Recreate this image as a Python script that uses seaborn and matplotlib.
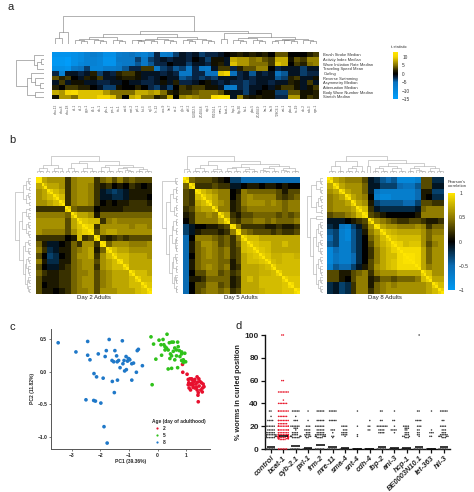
import matplotlib

matplotlib.use("Agg")

import matplotlib.pyplot as plt
import numpy as np
import pandas as pd
import seaborn as sns
from matplotlib.colors import LinearSegmentedColormap

# panel a: t-statistics, one row per feature
features = [
    "Brush Stroke Median",
    "Activity Index Median",
    "Wave Initiation Rate Median",
    "Traveling Speed Mean",
    "Curling",
    "Reverse Swimming",
    "Asymmetry Median",
    "Attenuation Median",
    "Body Wave Number Median",
    "Stretch Median",
]
genes_a = [
    "dhu-12", "dhu-8", "dhu-18", "ifc-1", "ifc-2", "ppp-1", "ifb-1", "dlc-1", "pfn-1", "rps-1",
    "ttn-1", "eat-6", "mai-2", "pal-1", "fut-3", "egl-5", "lin-12", "unc-9", "let-7", "sir-2",
    "glp-1", "daf-2", "C50D2.5", "ZC404.8", "atp-2", "F31D4.1", "mev-1", "bcat-1", "hsp-1", "hlp-30",
    "fat-1", "pbo-5", "ZC404.9", "lev-1", "lev-9", "T28C6.1", "cat-1", "pbo-4", "ric-19", "dlc-2",
    "rab-3", "age-1",
]
brush = [-12, -12, -12, -11, -10, -8, -7, -8, -11, -11, -7, -6, -5, -7, -8, -5, -2, -7, -6, -3,
         -1, -2, -1, -3, -2, -2, -1, 0, 1, 2, 1, 2, 1, 2, 0, 4, 4, 0, 0, 0, 2, 3]
activity = [-13, -13, -14, -11, -10, -8, -8, -9, -12, -12, -6, -6, -6, -3, -6, -3, -2, -1, -2, -1,
            -1, -2, 0, -1, -3, 1, 1, -1, 8, 7, 7, 5, 6, 4, 3, 8, 8, 1, 4, 3, 6, 6]
wave_init = [-13, -13, -14, -11, -9, -8, -8, -9, -12, -12, -7, -6, -6, -4, -6, -4, -2, -2, 0, -1,
             -1, -3, -1, -1, -2, 1, 2, -1, 9, 7, 7, 5, 5, 5, 3, 9, 8, 0, 3, 2, 5, 6]
travel = [-11, -11, -12, -6, -5, -3, -9, -9, -7, -7, -6, -4, -2, -2, 3, 3, -6, -3, -2, -4,
          -3, -6, -2, -6, -7, -1, 3, 3, -2, 2, 4, 4, 6, 6, 0, -2, -1, -1, -1, -3, -1, -1]
curling = [-2, -8, -1, -1, -2, -1, 2, -3, -1, -2, 2, 3, 3, 1, -1, -1, -1, -2, -1, -2,
           -6, -6, -2, -2, -5, -5, 9, 10, -5, -2, -1, -4, -1, -2, -1, -5, -4, -1, -1, -3, -2, -2]
reverse = [4, 2, 3, 0, -1, 2, 1, 3, -1, -1, 1, 2, 2, 1, -1, -2, -1, 0, -1, -1,
           -4, -3, -2, -3, -2, -3, -1, -1, -1, -2, -1, -2, -1, -1, -1, -4, -3, 2, 3, -1, -1, 1]
asymmetry = [-1, 3, -1, 1, 1, -1, -1, -2, -2, -1, -1, 0, -1, -1, -2, -2, -1, 1, -1, 2,
             -2, -2, -1, 0, 1, -1, -2, -1, -2, -2, -3, -2, -1, -1, -2, -1, -1, 2, 1, -1, 3, -1]
attenuation = [2, 0, 3, 3, 2, 2, 0, -1, -3, -3, 1, 0, 0, 2, 0, -2, -3, -1, -3, 0,
               3, 2, 3, 3, 1, 1, -1, -6, -7, -2, -3, -1, -1, 0, -1, 1, 3, 3, 1, -1, 1, 3]
body_wave = [8, 7, 10, 11, 9, 9, 9, 9, 7, 5, 5, 5, 5, 8, 8, 7, 8, 5, 2, 1,
             3, 3, 4, 5, 5, 5, 4, 1, -1, -1, -3, -1, 0, 1, 1, -3, -3, 4, 4, 1, 1, 2]
stretch = [1, 7, 7, 5, 9, 9, 9, 10, 10, 9, 5, 0, 8, 9, 5, 5, 2, 3, 8, 0,
           6, 7, 6, 5, 5, 11, 12, 12, -1, 6, 2, 1, 2, 1, 1, -2, -2, 7, 7, 1, 3, 2]

# dendrograms: [height, left, right], an int is a small cluster of that many leaves
tree_a_cols = [1.0, [0.41, [0.2, 1, 1], 1],
               [0.46,
                [0.35, [0.26, [0.17, 3, 3], 3], [0.24, [0.18, [0.14, 3, 2], 3], [0.18, 3, 3]]],
                [0.39, [0.18, 1, 1], [0.25, [0.2, 3, 3], [0.18, [0.13, 2, 3], 3]]]]]
tree_a_rows = [1.0, [0.36, 1, [0.25, [0.1, 1, 1], 1]],
               [0.6, [0.47, 1, [0.33, 1, [0.15, 1, 1]]], [0.3, 1, 1]]]
tree_day2 = [1.0, [0.48, [0.3, 3, 2], [0.3, 3, 2]],
             [0.72, [0.58, [0.3, 2, 3], [0.28, 3, 3]],
              [0.5, [0.34, 3, 3], [0.38, [0.3, 3, 4], [0.25, 3, 3]]]]]
tree_day5 = [1.0, [0.22, 1, 2],
             [0.75, [0.5, [0.3, 3, 3], [0.25, 3, 2]],
              [0.55, [0.38, [0.3, 3, 3], [0.22, 3, 3]], [0.4, [0.3, 4, 3], [0.28, 4, 3]]]]]
tree_day8 = [1.0, [0.72, [0.45, 3, 3], [0.4, [0.3, 3, 2], 2]],
             [0.78, [0.42, 1, 1],
              [0.6, [0.4, [0.3, 3, 3], [0.3, 3, 3]], [0.45, [0.3, 3, 4], [0.3, 3, 3]]]]]

# panel b: correlation read in blocks, upper triangle only
corr_day2 = [
    [1, .7, .6, .6, .6, .2, .5, .6, .6, .6, .2, .4, .5, .3, .5, .3, .4, .3, .3, .3],
    [.8, .7, .7, .6, .2, .5, .6, .6, .5, .2, .1, .2, .0, .1, .0, .2, .1, .0, .1],
    [.9, .8, .7, .2, .5, .6, .6, .5, .2, -.1, -.2, -.3, -.2, -.1, .1, .1, .1, .1],
    [.9, .8, .2, .5, .6, .6, .5, .2, -.1, -.1, -.2, -.2, -.1, .1, .1, .1, .0],
    [.9, .2, .5, .6, .6, .5, .2, .0, .1, .0, .1, .1, .2, .2, .2, .1],
    [.9, .4, .3, .3, .3, .0, .1, .1, .1, .1, .2, .2, .2, .2, .2],
    [.85, .7, .7, .6, .1, .4, .4, .4, .4, .4, .4, .4, .4, .4],
    [.9, .85, .8, .8, .2, .5, .6, .5, .5, .5, .5, .5, .5],
    [.95, .9, .2, .6, .6, .6, .6, .6, .5, .6, .6, .5],
    [.95, .3, .6, .7, .7, .6, .6, .6, .6, .6, .6],
    [.9, .2, .1, .2, .3, .2, .3, .3, .3, .3],
    [.95, .4, .6, .6, .6, .5, .5, .5, .6],
    [.9, .8, .7, .7, .6, .6, .6, .6],
    [.9, .8, .8, .7, .7, .7, .6],
    [.95, .8, .7, .7, .7, .7],
    [.9, .7, .7, .7, .7],
    [.9, .8, .8, .7],
    [.9, .8, .8],
    [.9, .85],
    [.95],
]
corr_day5 = [
    [.9, .4, .3, .3, .3, .2, .1, .0, -.3, -.3, -.5, -.5, -.5, -.5, -.5, -.5, -.5, -.5, -.5, -.5],
    [.9, .2, .2, .2, .3, .2, .2, -.1, -.1, .0, .1, .1, .0, .1, .1, .0, .1, .0, .0],
    [.95, .8, .7, .6, .5, .5, .0, .1, .5, .4, .4, .4, .4, .4, .3, .1, .3, .3],
    [.9, .8, .7, .5, .5, .0, .2, .5, .6, .5, .5, .5, .5, .3, .2, .3, .4],
    [.9, .7, .6, .5, .1, .2, .5, .6, .6, .6, .5, .6, .5, .4, .5, .5],
    [.8, .5, .5, .1, .2, .4, .5, .5, .5, .5, .5, .5, .4, .5, .5],
    [.85, .7, .2, .1, .3, .3, .4, .4, .4, .4, .3, .4, .3, .4],
    [.9, .3, .2, .4, .4, .5, .5, .4, .5, .4, .4, .4, .5],
    [.95, .5, .2, .2, .2, .2, .1, .1, .2, .1, .1, .2],
    [.95, .5, .4, .3, .3, .3, .2, .3, .2, .2, .3],
    [.9, .8, .8, .7, .7, .7, .7, .7, .7, .7],
    [.9, .85, .8, .8, .7, .7, .8, .7, .7],
    [.9, .85, .8, .7, .7, .7, .7, .7],
    [.9, .85, .75, .75, .8, .8, .75],
    [.9, .8, .75, .8, .8, .8],
    [.9, .8, .8, .8, .8],
    [.9, .8, .8, .8],
    [.9, .85, .85],
    [.95, .85],
    [.95],
]
corr_day8 = [
    [.9, .7, .6, .5, .5, .5, .3, -.1, -.2, -.4, -.5, -.4, -.8, -.8, -.8, -.7, .3, .3, -.2, -.2],
    [.9, .7, .6, .6, .6, .4, -.1, -.1, -.3, -.3, -.3, -.5, -.6, -.6, -.4, .3, .3, -.1, -.1],
    [.9, .7, .6, .6, .4, -.1, -.6, -.7, -.7, -.7, -.7, -.7, -.7, -.5, .1, .1, -.3, -.3],
    [.9, .7, .6, .5, .0, -.7, -.8, -.8, -.7, -.7, -.7, -.7, -.5, .1, .0, -.2, -.2],
    [.9, .7, .6, .1, -.3, -.4, -.4, -.4, -.4, -.5, -.5, -.3, .3, .3, .2, .2],
    [.9, .8, .2, -.1, -.2, -.2, -.2, -.2, -.2, -.2, -.1, .4, .5, .5, .5],
    [.95, .3, .2, .1, .0, .0, .0, .0, .0, .1, .5, .5, .5, .5],
    [.8, .6, .5, .4, .3, .2, .2, .3, .3, .2, .1, .1, .2],
    [.95, .7, .6, .6, .5, .5, .5, .6, .5, .2, .4, .4],
    [.9, .8, .75, .7, .7, .7, .7, .6, .4, .5, .5],
    [.9, .85, .8, .8, .8, .8, .6, .4, .6, .6],
    [.95, .9, .8, .85, .85, .6, .3, .5, .6],
    [.95, .95, .95, .95, .7, .4, .6, .6],
    [.98, .98, .95, .7, .4, .6, .6],
    [.98, .95, .7, .4, .6, .6],
    [.95, .7, .5, .6, .6],
    [.9, .8, .6, .6],
    [.9, .7, .7],
    [.9, .8],
    [.9],
]

# panel c: PCA scores
day2_pc1 = [.88, 1.03, 1.07, 1.13, 1.19, 1.22, 1.28, 1.09, 1.19, 1.30, 1.38, 1.44, 1.24, 1.34, 1.40,
            1.48, 1.53, 1.59, 1.62, 1.45, 1.36, 1.30, 1.10, 1.15, 1.38, 1.57, 1.51, 1.42, 1.41, 1.24,
            1.42, .87, 1.56, 1.17, 1.07]
day2_pc2 = [-.01, -.04, -.12, -.11, -.11, -.13, -.15, -.17, -.18, -.12, -.08, -.11, -.20, -.19, -.16,
            -.15, -.17, -.19, -.23, -.22, -.24, -.25, -.25, -.28, -.28, -.25, -.28, -.32, -.36, -.24,
            -.46, .11, -.31, -.20, -.20]
day5_pc1 = [-.23, .33, -.14, .05, .19, .12, .22, .26, .31, .37, .41, .49, .55, .70, .72, .60, .66, .76,
            .84, .95, .84, .55, .49, .60, .84, .90, .98, .90, .14, -.06, .37, .49, .70, -.19, .45,
            .43, .66, .78, .26]
day5_pc2 = [.53, .57, .42, .48, .49, .41, .41, .38, .36, .33, .44, .45, .45, .45, .38, .36, .33, .32,
            .30, .28, .27, .31, .24, .18, .17, .18, .15, .14, .25, .19, .04, .05, .06, -.20, .27,
            .20, .24, .23, .33]
day8_pc1 = [-3.47, -2.44, -1.69, -1.23, -2.85, -2.44, -2.36, -2.07, -1.79, -1.83, -1.49, -1.43, -1.59,
            -1.53, -1.41, -1.36, -1.17, -1.21, -1.10, -1.02, -.97, -1.05, -.99, -.71, -.67, -.90, -.84,
            -.53, -1.31, -1.09, -1.15, -.74, -2.22, -2.13, -1.90, -1.58, -1.40, -.90, -1.51, -2.50,
            -2.23, -2.17, -1.98, -1.87, -1.76]
day8_pc2 = [.44, .46, .49, .47, .30, .25, .18, .27, .32, .23, .32, .24, .17, .15, .15, .17, .17, .12,
            .23, .20, .18, .16, .19, .32, .34, .12, .13, .09, .06, .03, .01, -.01, -.03, -.08, -.10,
            -.15, -.13, -.13, -.32, -.43, -.44, -.45, -.48, -.84, -1.09]

# panel d: (percent curled, number of wells)
genes_d = ["control", "bcat-1", "cyb-2.1", "pxl-1", "frm-2", "mre-11", "sma-4", "snt-4", "cdh-4",
           "lbp-2", "ani-3", "hcp-1", "BE0003N10.1", "let-363", "hil-3"]
wells_control = [(33.3, 2), (28.6, 1), (25, 4), (20, 6), (16.7, 5), (14.3, 6), (12.5, 8), (11.1, 8), (10, 6), (0, 6)]
wells_bcat = [(100, 2), (60, 2), (50, 7), (42.9, 1), (40, 6), (33.3, 8), (28.6, 6), (25, 8), (22.2, 6), (20, 10),
              (16.7, 10), (14.3, 8), (12.5, 12), (11.1, 20), (10, 14), (9.1, 8), (8.3, 4), (0, 6)]
wells_cyb = [(33.3, 5), (28.6, 1), (25, 3), (20, 6), (18.2, 3), (16.7, 1), (14.3, 4), (12.5, 4), (11.1, 6), (10, 5), (0, 6)]
wells_pxl = [(33.3, 1), (25, 1), (20, 3), (16.7, 4), (14.3, 3), (12.5, 4), (11.1, 3), (10, 2), (0, 6)]
wells_frm = [(33.3, 5), (25, 5), (20, 6), (16.7, 5), (14.3, 5), (12.5, 7), (11.1, 6), (10, 4), (0, 6)]
wells_mre = [(33.3, 5), (25, 5), (16.7, 3), (14.3, 1), (11.1, 2), (10, 1), (0, 6)]
wells_sma = [(20, 4), (16.7, 3), (14.3, 4), (12.5, 4), (11.1, 1), (0, 6)]
wells_snt = [(33.3, 1), (20, 1), (12.5, 1), (11.1, 1), (0, 6)]
wells_cdh = [(25, 1), (20, 2), (16.7, 2), (0, 6)]
wells_lbp = [(33.3, 2), (25, 2), (20, 7), (16.7, 4), (14.3, 4), (0, 6)]
wells_ani = [(33.3, 1), (25, 2), (20, 1), (16.7, 4), (14.3, 1), (0, 6)]
wells_hcp = [(20, 4), (18.2, 3), (16.7, 2), (14.3, 3), (12.5, 3), (11.1, 3), (10, 3), (0, 6)]
wells_be = [(100, 1), (33.3, 2), (25, 4), (20, 3), (16.7, 2), (14.3, 2), (12.5, 2), (11.1, 1), (0, 6)]
wells_let = [(33.3, 1), (16.7, 1), (14.3, 3), (11.1, 2), (0, 6)]
wells_hil = [(33.3, 5), (25, 2), (20, 4), (16.7, 3), (14.3, 3), (12.5, 5), (11.1, 5), (10, 3), (0, 6)]
means_d = [2, 11, 2.5, 1.2, 3.5, 1.5, 1, 0.3, 0.3, 1.5, 0.7, 1, 2, 0.3, 2]

W, H = 474, 492


def px_axes(fig, x0, y0, x1, y1):
    return fig.add_axes([x0 / W, 1 - y1 / H, (x1 - x0) / W, (y1 - y0) / H])


def expand(node):
    # small clusters become a short comb of leaves
    if isinstance(node, list):
        return [node[0], expand(node[1]), expand(node[2])]
    if node == 1:
        return 1
    return [0.05 * node, 1, expand(node - 1)]


def draw_tree(ax, tree, side, color):
    segs = []
    count = [0]

    def walk(node):
        if node == 1:
            count[0] += 1
            return count[0] - 0.5, 0.0
        pa, ha = walk(node[1])
        pb, hb = walk(node[2])
        segs.append(([pa, pa, pb, pb], [ha, node[0], node[0], hb]))
        return (pa + pb) / 2, node[0]

    walk(expand(tree))
    for pos, height in segs:
        if side == "top":
            ax.plot(pos, height, color=color, lw=0.4)
        else:
            ax.plot([-h for h in height], pos, color=color, lw=0.4)
    if side == "top":
        ax.set_xlim(0, count[0])
        ax.set_ylim(0, 1.02)
    else:
        ax.set_xlim(-1.02, 0)
        ax.set_ylim(count[0], 0)
    ax.axis("off")


def block_matrix(rows):
    # upper triangle blocks -> full symmetric matrix, self correlation on the diagonal
    n = len(rows)
    blocks = np.zeros((n, n))
    for i, row in enumerate(rows):
        blocks[i, i:] = row
        blocks[i:, i] = row
    full = np.kron(blocks, np.ones((2, 2)))
    np.fill_diagonal(full, 1)
    return full


def expand_wells(gene, wells):
    return [{"gene": gene, "pct": value} for value, n in wells for _ in range(n)]


sns.set_theme(style="white")
plt.rcParams["font.family"] = ["Liberation Sans", "DejaVu Sans"]
plt.rcParams["axes.unicode_minus"] = True

t_cmap = LinearSegmentedColormap.from_list(
    "t_stat",
    [(0.0, (0.0, 0.63, 1.0)), (10 / 27.8, (0.04, 0.45, 0.75)), (13 / 27.8, (0.03, 0.14, 0.26)),
     (15 / 27.8, (0, 0, 0)), (17 / 27.8, (0.14, 0.12, 0)), (20 / 27.8, (0.5, 0.43, 0)),
     (25 / 27.8, (0.95, 0.83, 0)), (1.0, (1.0, 0.9, 0))],
)
r_cmap = LinearSegmentedColormap.from_list(
    "pearson",
    [(0.0, (0.0, 0.6, 0.95)), (0.25, (0.04, 0.42, 0.7)), (0.5, (0, 0, 0)), (0.75, (0.56, 0.48, 0)), (1.0, (1.0, 0.9, 0))],
)

fig = plt.figure(figsize=(W / 100, H / 100), dpi=100)

for label, x, y in [("a", 11, 7), ("b", 12, 140), ("c", 12, 327), ("d", 239, 326)]:
    fig.text(x / W, 1 - y / H, label, fontsize=8, ha="center", va="center", color="#222222")

# panel a
t_table = pd.DataFrame(
    [brush, activity, wave_init, travel, curling, reverse, asymmetry, attenuation, body_wave, stretch],
    index=features,
    columns=genes_a,
)
ax_a = px_axes(fig, 52.3, 52.3, 319.3, 99.3)
cax_a = px_axes(fig, 392.7, 52.3, 398, 99.3)
sns.heatmap(t_table, ax=ax_a, cmap=t_cmap, vmin=-15, vmax=12.8, cbar_ax=cax_a,
            xticklabels=True, yticklabels=True)
ax_a.yaxis.tick_right()
ax_a.tick_params(axis="y", length=0, pad=3, labelsize=2.9, labelrotation=0, labelcolor="#333333")
ax_a.tick_params(axis="x", length=0, pad=3.5, labelsize=2.3, labelrotation=90, labelcolor="#555555")
cax_a.set_yticks([10, 5, 0, -5, -10, -15])
cax_a.set_yticklabels(["10", "5", "0", "−5", "−10", "−15"])
cax_a.tick_params(length=0, pad=3, labelsize=3.4, labelcolor="#333333")
fig.text(391 / W, 1 - 47.5 / H, "t-statistic", fontsize=2.9, color="#333333", va="center")

draw_tree(px_axes(fig, 52.3, 15, 319.3, 44), tree_a_cols, "top", "#777777")
draw_tree(px_axes(fig, 15, 52.3, 44, 99.3), tree_a_rows, "left", "#777777")

# panel b
panels_b = [
    (corr_day2, tree_day2, "Day 2 Adults", 35.7, 14.7),
    (corr_day5, tree_day5, "Day 5 Adults", 183, 162),
    (corr_day8, tree_day8, "Day 8 Adults", 327.3, 306.7),
]
cax_b = px_axes(fig, 448, 193, 455, 290)
for corr, tree, title, left, tree_left in panels_b:
    ax = px_axes(fig, left, 177, left + 116.7, 293.5)
    sns.heatmap(block_matrix(corr), ax=ax, cmap=r_cmap, vmin=-1, vmax=1, cbar_ax=cax_b,
                xticklabels=False, yticklabels=False)
    draw_tree(px_axes(fig, left, 156, left + 116.7, 173), tree, "top", "#aaaaaa")
    draw_tree(px_axes(fig, tree_left, 177, tree_left + 16, 293.5), tree, "left", "#aaaaaa")
    fig.text((left + 58) / W, 1 - 298 / H, title, fontsize=4.3, ha="center", va="center", color="#222222")
cax_b.set_yticks([1, 0.5, 0, -0.5, -1])
cax_b.set_yticklabels(["1", "0.5", "0", "−0.5", "−1"])
cax_b.tick_params(length=0, pad=3, labelsize=3.6, labelcolor="#333333")
fig.text(448 / W, 1 - 184 / H, "Pearson's\ncorrelation", fontsize=3, color="#333333", va="center", linespacing=1.1)

# panel c
pca = pd.DataFrame({
    "PC1": day2_pc1 + day5_pc1 + day8_pc1,
    "PC2": day2_pc2 + day5_pc2 + day8_pc2,
    "Age": ["2"] * len(day2_pc1) + ["5"] * len(day5_pc1) + ["8"] * len(day8_pc1),
})
ax_c = px_axes(fig, 51.3, 329, 210, 448.7)
sns.scatterplot(data=pca, x="PC1", y="PC2", hue="Age", ax=ax_c, s=7, linewidth=0,
                palette={"2": "#e8102e", "5": "#2fc21a", "8": "#1f78c8"})
ax_c.set_xlim(-3.71, 1.83)
ax_c.set_ylim(-1.176, 0.65)
ax_c.set_xticks([-3, -2, -1, 0, 1])
ax_c.set_yticks([0.5, 0, -0.5, -1])
ax_c.set_xticklabels(["−3", "−2", "−1", "0", "1"])
ax_c.set_yticklabels(["0.5", "0.0", "−0.5", "−1.0"])
ax_c.tick_params(length=1.5, width=0.5, pad=1.5, labelsize=3.6, bottom=True, left=True, color="#444444")
for tick in ax_c.get_xticklabels() + ax_c.get_yticklabels():
    tick.set_fontweight("bold")
ax_c.set_xlabel("PC1 (39.36%)", fontsize=3.6, fontweight="bold", labelpad=1)
ax_c.set_ylabel("PC2 (11.82%)", fontsize=3.6, fontweight="bold", labelpad=1.5)
sns.despine(ax=ax_c)
for side in ["left", "bottom"]:
    ax_c.spines[side].set_linewidth(0.7)
    ax_c.spines[side].set_color("#555555")
legend = ax_c.legend(title="Age (day of adulthood)", loc="lower right", frameon=False,
                     title_fontsize=3.5, markerscale=0.6, labelspacing=0.35, handletextpad=0.2,
                     borderaxespad=0.2, borderpad=0.6, alignment="left",
                     prop={"size": 3.6, "weight": "bold"})
legend.get_title().set_fontweight("bold")

# panel d
wells = pd.DataFrame(
    expand_wells("control", wells_control) + expand_wells("bcat-1", wells_bcat)
    + expand_wells("cyb-2.1", wells_cyb) + expand_wells("pxl-1", wells_pxl)
    + expand_wells("frm-2", wells_frm) + expand_wells("mre-11", wells_mre)
    + expand_wells("sma-4", wells_sma) + expand_wells("snt-4", wells_snt)
    + expand_wells("cdh-4", wells_cdh) + expand_wells("lbp-2", wells_lbp)
    + expand_wells("ani-3", wells_ani) + expand_wells("hcp-1", wells_hcp)
    + expand_wells("BE0003N10.1", wells_be) + expand_wells("let-363", wells_let)
    + expand_wells("hil-3", wells_hil)
)
ax_d = px_axes(fig, 265, 335, 450, 449)
palette_d = {gene: "#3a3a3a" for gene in genes_d}
palette_d["bcat-1"] = "#e8182c"
sns.swarmplot(data=wells, x="gene", y="pct", hue="gene", order=genes_d, palette=palette_d, ax=ax_d,
              size=1.1, linewidth=0, legend=False, warn_thresh=1, clip_on=False)
ax_d.hlines(means_d, np.arange(len(genes_d)) - 0.35, np.arange(len(genes_d)) + 0.35,
            color="black", lw=1.1, zorder=4, clip_on=False)
ax_d.set_xlim(-0.49, 14.5)
ax_d.set_ylim(0, 100)
ax_d.set_yticks([0, 20, 40, 60, 80, 100])
ax_d.set_xlabel("")
ax_d.set_ylabel("% worms in curled position", fontsize=5.3, fontweight="bold", labelpad=2, color="#222222")
ax_d.tick_params(axis="y", length=3, width=0.9, pad=1.5, labelsize=6, left=True, color="#111111")
ax_d.tick_params(axis="x", length=3, width=0.9, pad=1, labelsize=5.4, bottom=True, color="#111111")
for tick in ax_d.get_yticklabels():
    tick.set_fontweight("bold")
for tick in ax_d.get_xticklabels():
    tick.set_fontweight("bold")
    tick.set_fontstyle("italic")
    tick.set_rotation(45)
    tick.set_ha("right")
    tick.set_rotation_mode("anchor")
sns.despine(ax=ax_d)
for side in ["left", "bottom"]:
    ax_d.spines[side].set_linewidth(1.0)
    ax_d.spines[side].set_color("#111111")

fig.savefig("out.png", dpi=100)
